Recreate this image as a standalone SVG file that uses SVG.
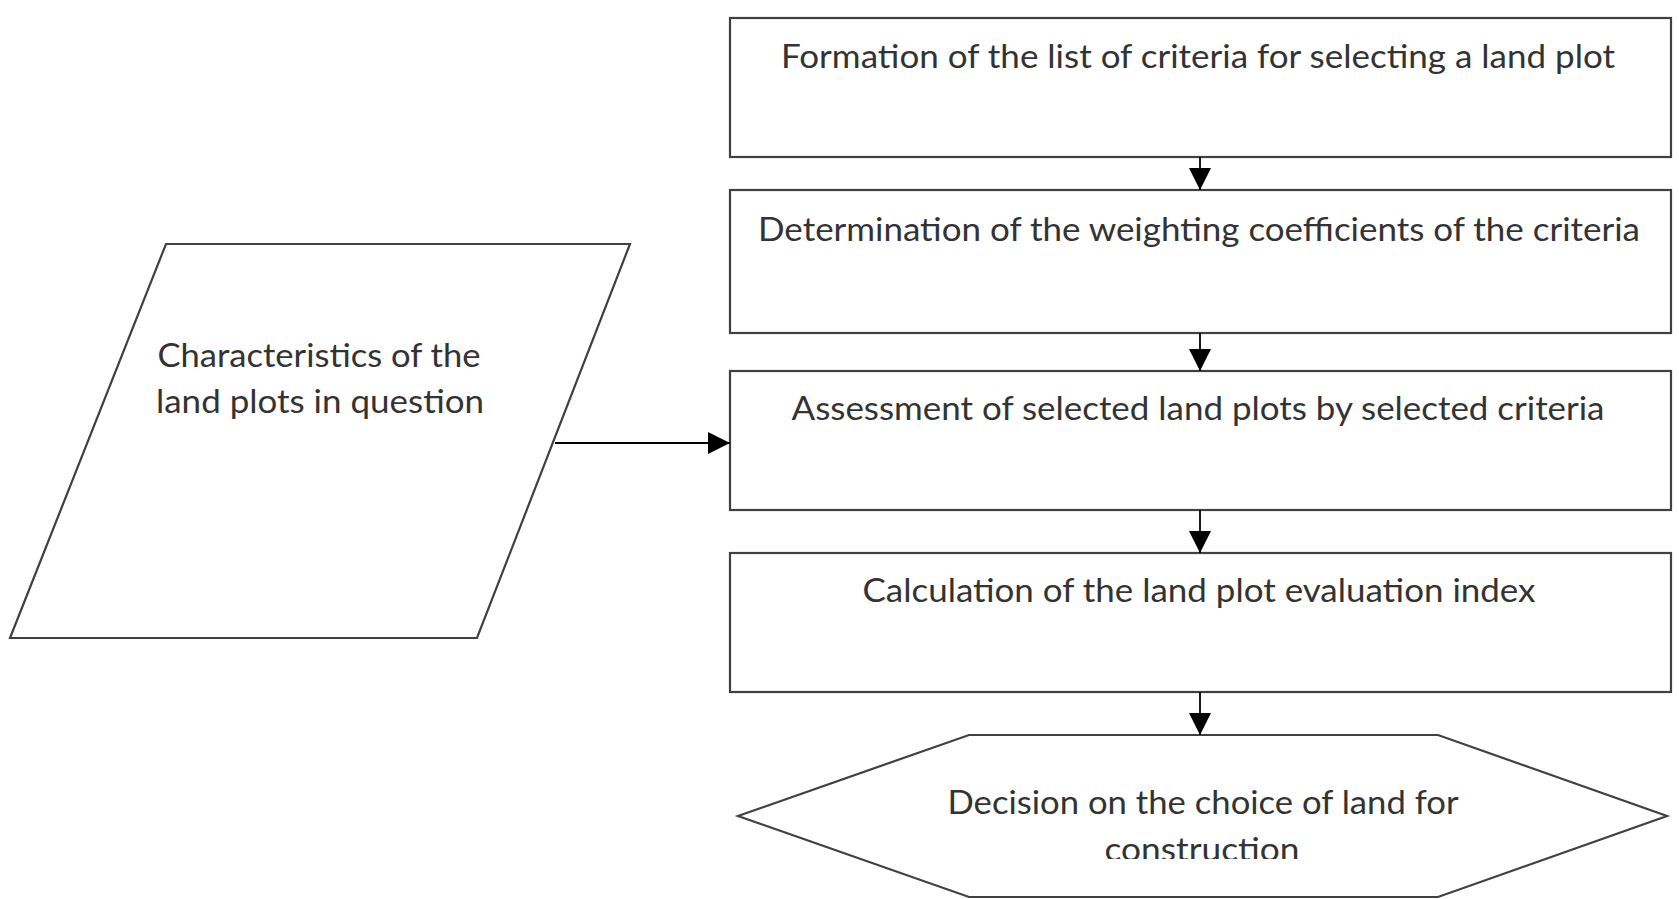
<svg xmlns="http://www.w3.org/2000/svg" width="1679" height="899" viewBox="0 0 1679 899">
<style>
.shape{fill:#fff;stroke:#404040;stroke-width:2.2}
.lbl{font-family:Lato,"Liberation Sans",sans-serif;font-size:32px;fill:#333;text-anchor:middle}
.conn{stroke:#000;stroke-width:1.8;fill:none}
</style>
<defs>
<marker id="ah" markerUnits="userSpaceOnUse" markerWidth="22" markerHeight="22" viewBox="0 0 22 22" refX="22" refY="11" orient="auto">
<path d="M0,0 L22,11 L0,22 Z" fill="#000"/>
</marker>
<clipPath id="hexclip"><rect x="700" y="730" width="979" height="129"/></clipPath>
</defs>
<g id="box1">
<rect class="shape" x="730" y="18" width="941" height="139"/>
<text class="lbl" x="1198" y="68" textLength="834" lengthAdjust="spacingAndGlyphs">Formation of the list of criteria for selecting a land plot</text>
</g>
<g id="box2">
<rect class="shape" x="730" y="190" width="941" height="143"/>
<text class="lbl" x="1199" y="241" textLength="882" lengthAdjust="spacingAndGlyphs">Determination of the weighting coefficients of the criteria</text>
</g>
<g id="box3">
<rect class="shape" x="730" y="371" width="941" height="139"/>
<text class="lbl" x="1198" y="420" textLength="813" lengthAdjust="spacingAndGlyphs">Assessment of selected land plots by selected criteria</text>
</g>
<g id="box4">
<rect class="shape" x="730" y="553" width="941" height="139"/>
<text class="lbl" x="1199" y="602" textLength="673" lengthAdjust="spacingAndGlyphs">Calculation of the land plot evaluation index</text>
</g>
<g id="input">
<polygon class="shape" points="166,244 630,244 477,638 10,638"/>
<text class="lbl" x="319" y="367" textLength="323" lengthAdjust="spacingAndGlyphs">Characteristics of the</text>
<text class="lbl" x="320" y="413" textLength="328" lengthAdjust="spacingAndGlyphs">land plots in question</text>
</g>
<g id="decision">
<polygon class="shape" points="738,816 969,735 1438,735 1667,816 1438,897 969,897"/>
<text class="lbl" x="1203" y="814" textLength="511" lengthAdjust="spacingAndGlyphs">Decision on the choice of land for</text>
<text class="lbl" x="1202" y="861" textLength="195" lengthAdjust="spacingAndGlyphs" clip-path="url(#hexclip)">construction</text>
</g>
<g id="connectors">
<line class="conn" x1="1200" y1="157" x2="1200" y2="190" marker-end="url(#ah)"/>
<line class="conn" x1="1200" y1="333" x2="1200" y2="371" marker-end="url(#ah)"/>
<line class="conn" x1="1200" y1="510" x2="1200" y2="553" marker-end="url(#ah)"/>
<line class="conn" x1="1200" y1="692" x2="1200" y2="735" marker-end="url(#ah)"/>
<line class="conn" x1="555" y1="443" x2="730" y2="443" marker-end="url(#ah)"/>
</g>
</svg>
